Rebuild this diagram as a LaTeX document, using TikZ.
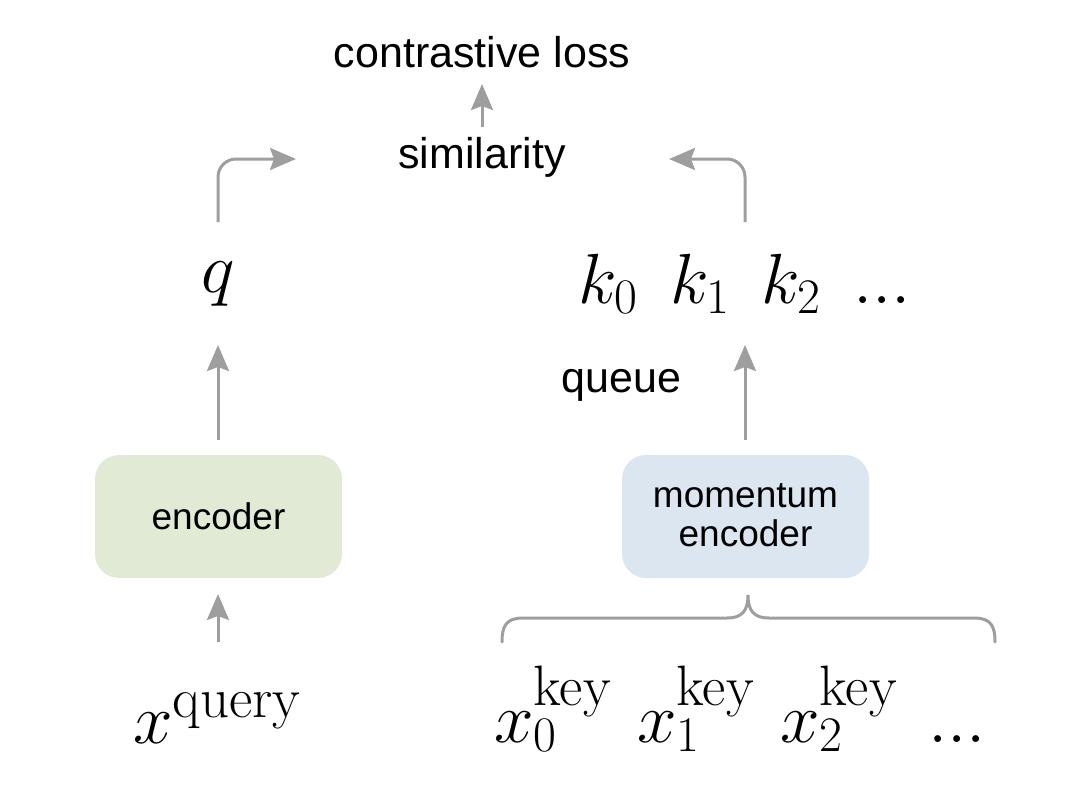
\RequirePackage{fix-cm}
\documentclass[tikz,border=0pt]{standalone}
\usepackage{fontspec}
\newfontfamily\arial{Liberation Sans}
\usetikzlibrary{arrows.meta}
\definecolor{arrowgray}{HTML}{9E9E9E}
\definecolor{encgreen}{HTML}{E0EAD4}
\definecolor{encblue}{HTML}{DBE6F1}
\newcommand{\bigsup}[1]{\mbox{\fontsize{57}{64}\selectfont #1}}
\tikzset{
  lbl/.style={font=\arial\fontsize{43}{50}\selectfont, inner sep=0pt, anchor=base},
  mth/.style={font=\fontsize{71}{80}\selectfont, inner sep=0pt, anchor=base west},
  boxtxt/.style={font=\arial\fontsize{37}{45}\selectfont, align=center},
  encbox/.style={rounded corners=24pt, inner sep=0pt},
  flow/.style={draw=arrowgray, line width=3pt, -{Stealth[length=26pt,width=22pt,inset=4pt]}},
  bracestyle/.style={draw=arrowgray, line width=3pt, line cap=round}
}
\begin{document}
\begin{tikzpicture}[x=1pt,y=-1pt]
\useasboundingbox (0,0) rectangle (1080,798);
% texts
\node[lbl] (loss) at (482,67) {contrastive loss};
\node[lbl] (sim) at (482,168) {similarity};
\node[lbl] (queue) at (621.5,392) {queue};
% boxes
\fill[encgreen, encbox] (95,455) rectangle (342,578);
\node[boxtxt] (enc) at (218.5,516) {encoder};
\fill[encblue, encbox] (622,455) rectangle (869,578);
\node[boxtxt] (menc) at (745.5,515.5) {momentum\\[-6pt]encoder};
% math
\node[font=\fontsize{71}{80}\selectfont, inner sep=0pt, anchor=base] (q) at (218,292) {$q$};
\node[mth] (k0) at (578,303) {$k_0$};
\node[mth] (k1) at (670,303) {$k_1$};
\node[mth] (k2) at (761,303) {$k_2$};
\node[mth] (kd) at (853,303) {$...$};
\node[mth] (xq) at (133,743) {$x^{\bigsup{query}}$};
\node[mth] (x0) at (494,742) {$x_0^{\bigsup{key}}$};
\node[mth] (x1) at (637,742) {$x_1^{\bigsup{key}}$};
\node[mth] (x2) at (780,742) {$x_2^{\bigsup{key}}$};
\node[mth] (xd) at (928,742) {$...$};
% coordinates
\coordinate (qtop) at (218,222);
\coordinate (qleft) at (296,159);
\coordinate (ktop) at (745,222);
\coordinate (kright) at (669,159);
\coordinate (encout) at (218,440);
\coordinate (qbot) at (218,345);
\coordinate (mencout) at (745,440);
\coordinate (kbot) at (745,345);
\coordinate (xqtop) at (218,642);
\coordinate (encin) at (218,594);
\coordinate (simtop) at (482,127);
\coordinate (lossbot) at (482,84);
% arrows
\draw[flow] (encout) -- (qbot);
\draw[flow] (mencout) -- (kbot);
\draw[flow] (xqtop) -- (encin);
\draw[flow] (simtop) -- (lossbot);
\draw[flow, rounded corners=18pt] (qtop) |- (qleft);
\draw[flow, rounded corners=18pt] (ktop) |- (kright);
% brace
\draw[bracestyle] (502,642) .. controls (502,626) and (506,618) .. (523,618)
  -- (727,618) .. controls (742,618) and (748,611) .. (748,595)
  .. controls (748,611) and (754,618) .. (769,618)
  -- (974,618) .. controls (991,618) and (995,626) .. (995,642);
\end{tikzpicture}
\end{document}
